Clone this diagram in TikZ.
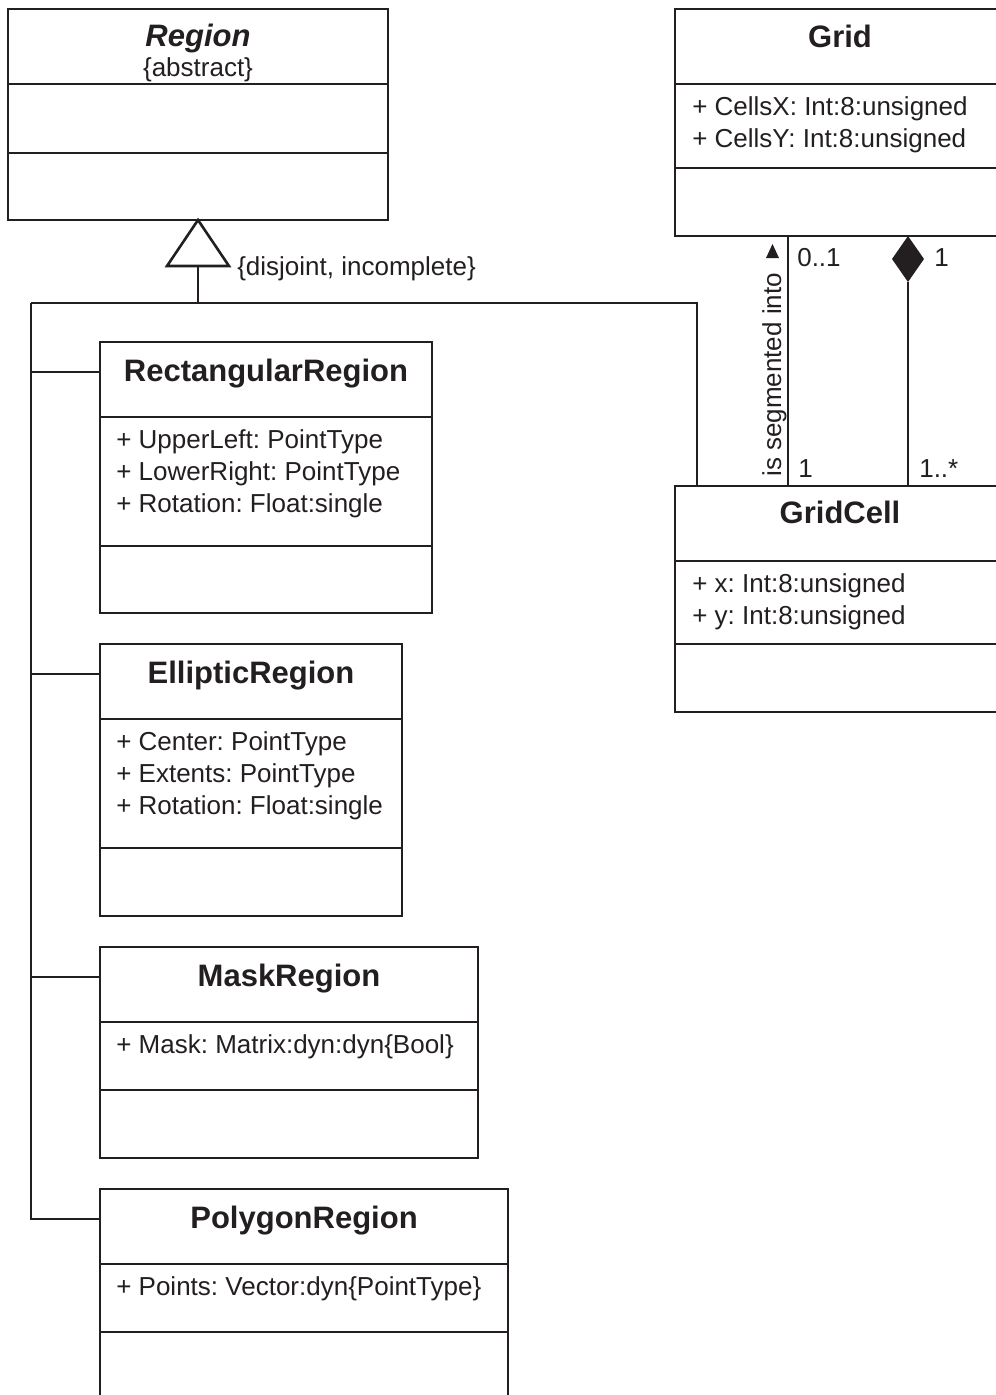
\documentclass[tikz,border=0pt]{standalone}
\usepackage{fontspec}
\setmainfont{Liberation Sans}
\usetikzlibrary{calc}
\definecolor{ink}{HTML}{231F20}
\frenchspacing
\begin{document}
\begin{tikzpicture}[x=1pt, y=-1pt, line width=2.6pt, color=ink,
  classbox/.style={draw, anchor=north west, inner sep=0pt, outer sep=0pt, fill=white},
  classname/.style={font=\fontsize{31}{31}\selectfont\bfseries, anchor=base, inner sep=0pt},
  attr/.style={font=\fontsize{26}{32}\selectfont, anchor=base west, inner sep=0pt},
  note/.style={font=\fontsize{26}{26}\selectfont, anchor=base west, inner sep=0pt}]
\useasboundingbox (0,0) rectangle (996,1395);
\clip (0,0) rectangle (996,1395);

% ---------- Region (abstract) ----------
\node[classbox, minimum width=380pt, minimum height=211pt] (region) at (8,9) {};
\draw (8,84) -- (388,84);
\draw (8,153) -- (388,153);
\node[classname, font=\fontsize{31}{31}\selectfont\bfseries\itshape] (regionT) at (198,46) {Region};
\node[font=\fontsize{26}{26}\selectfont, anchor=base, inner sep=0pt] (regionS) at (198,76) {\{abstract\}};

% ---------- Grid ----------
\node[classbox, minimum width=330pt, minimum height=227pt] (grid) at (675,9) {};
\draw (675,84) -- (1005,84);
\draw (675,168) -- (1005,168);
\node[classname] (gridT) at (840,47) {Grid};
\node[attr] (gridA1) at (691,115) {+ CellsX: Int:8:unsigned};
\node[attr] (gridA2) at (691,147) {+ CellsY: Int:8:unsigned};

% ---------- GridCell ----------
\node[classbox, minimum width=330pt, minimum height=226pt] (gridcell) at (675,486) {};
\draw (675,561) -- (1005,561);
\draw (675,644) -- (1005,644);
\node[classname] (gridcellT) at (840,523) {GridCell};
\node[attr] (gridcellA1) at (691,592) {+ x: Int:8:unsigned};
\node[attr] (gridcellA2) at (691,624) {+ y: Int:8:unsigned};

% ---------- RectangularRegion ----------
\node[classbox, minimum width=332pt, minimum height=271pt] (rect) at (100,342) {};
\draw (100,417) -- (432,417);
\draw (100,546) -- (432,546);
\node[classname] (rectT) at (266,381) {RectangularRegion};
\node[attr] (rectA1) at (115,448) {+ UpperLeft: PointType};
\node[attr] (rectA2) at (115,480) {+ LowerRight: PointType};
\node[attr] (rectA3) at (115,512) {+ Rotation: Float:single};

% ---------- EllipticRegion ----------
\node[classbox, minimum width=302pt, minimum height=272pt] (ellip) at (100,644) {};
\draw (100,719) -- (402,719);
\draw (100,848) -- (402,848);
\node[classname] (ellipT) at (251,683) {EllipticRegion};
\node[attr] (ellipA1) at (115,750) {+ Center: PointType};
\node[attr] (ellipA2) at (115,782) {+ Extents: PointType};
\node[attr] (ellipA3) at (115,814) {+ Rotation: Float:single};

% ---------- MaskRegion ----------
\node[classbox, minimum width=378pt, minimum height=211pt] (mask) at (100,947) {};
\draw (100,1022) -- (478,1022);
\draw (100,1090) -- (478,1090);
\node[classname] (maskT) at (289,986) {MaskRegion};
\node[attr] (maskA1) at (115,1053) {+ Mask: Matrix:dyn:dyn\{Bool\}};

% ---------- PolygonRegion ----------
\node[classbox, minimum width=408pt, minimum height=260pt] (poly) at (100,1189) {};
\draw (100,1264) -- (508,1264);
\draw (100,1332) -- (508,1332);
\node[classname] (polyT) at (304,1228) {PolygonRegion};
\node[attr] (polyA1) at (115,1295) {+ Points: Vector:dyn\{PointType\}};

% ---------- Generalization tree ----------
\coordinate (trunk) at (31,303);
\coordinate (trunkEnd) at (31,1219);
\coordinate (toCell) at (697,303);
\coordinate (triBase) at ($(region.south)+(0,46)$);
\coordinate (fork) at (region.south |- trunk);
\draw[line join=miter] (region.south) -- ($(triBase)+(-31,0)$) -- ($(triBase)+(31,0)$) -- cycle;
\draw (triBase) -- (fork);
\draw (trunk) -- (toCell) -- (gridcell.north -| toCell);
\draw (trunk) -- (trunkEnd);
\draw (trunk) |- ($(rect.north west)+(0,30)$);
\draw (trunk) |- ($(ellip.north west)+(0,30)$);
\draw (trunk) |- ($(mask.north west)+(0,30)$);
\draw (trunk) |- ($(poly.north west)+(0,30)$);
\node[note] (genLabel) at (236,275) {\{disjoint, incomplete\}};

% ---------- Association: is segmented into ----------
\coordinate (assocX) at (788,0);
\draw (grid.south -| assocX) -- (gridcell.north -| assocX);
\node[note, rotate=90] (assocLabel) at (781,478) {is segmented into};
\fill (772.5,244) -- (779,258) -- (766,258) -- cycle;
\node[note] (multA1) at (796,266) {0..1};
\node[note] (multA2) at (797,477) {1};

% ---------- Composition ----------
\coordinate (compX) at (908,0);
\coordinate (diaTop) at (grid.south -| compX);
\coordinate (diaBot) at ($(diaTop)+(0,46)$);
\draw (diaBot) -- (gridcell.north -| compX);
\fill (diaTop) -- ($(diaTop)+(16,23)$) -- (diaBot) -- ($(diaTop)+(-16,23)$) -- cycle;
\node[note] (multC1) at (933,266) {1};
\node[note] (multC2) at (918,477) {1..*};
\end{tikzpicture}
\end{document}
